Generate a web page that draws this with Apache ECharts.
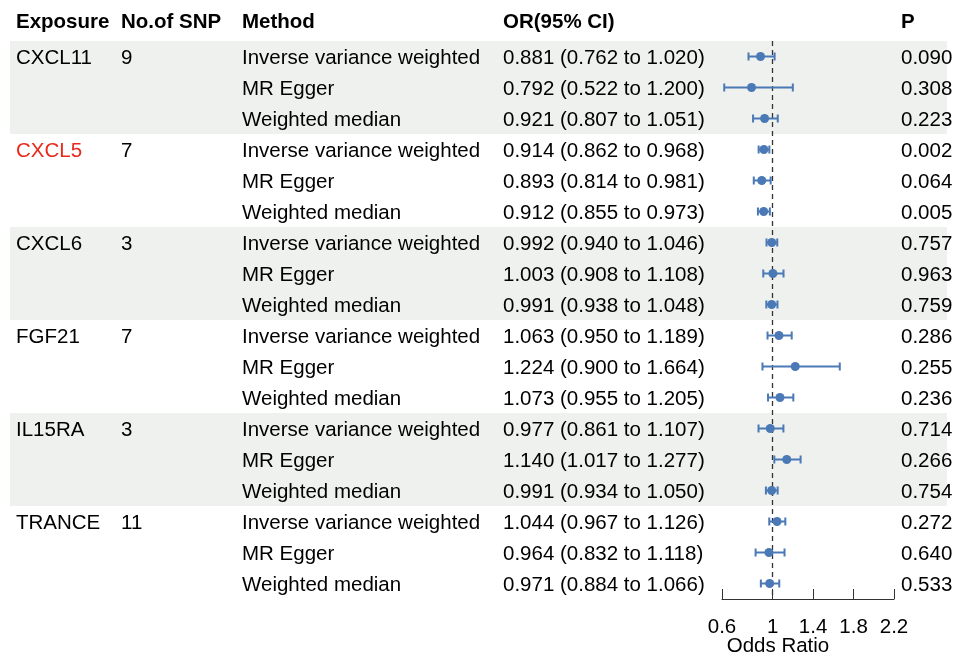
<!DOCTYPE html>
<html><head><meta charset="utf-8">
<script src="https://cdn.jsdelivr.net/npm/echarts@6/dist/echarts.min.js"></script>
<style>html,body{margin:0;padding:0;background:#fff}#c{width:955px;height:658px}</style>
</head><body><div id="c"></div>
<script>
const exposures = ['CXCL11','CXCL5','CXCL6','FGF21','IL15RA','TRANCE'];
const snpCounts = ['9','7','3','7','3','11'];
const methods = ['Inverse variance weighted','MR Egger','Weighted median'];
const orValues = [0.881,0.792,0.921, 0.914,0.893,0.912, 0.992,1.003,0.991, 1.063,1.224,1.073, 0.977,1.140,0.991, 1.044,0.964,0.971];
const orLower  = [0.762,0.522,0.807, 0.862,0.814,0.855, 0.940,0.908,0.938, 0.950,0.900,0.955, 0.861,1.017,0.934, 0.967,0.832,0.884];
const orUpper  = [1.020,1.200,1.051, 0.968,0.981,0.973, 1.046,1.108,1.048, 1.189,1.664,1.205, 1.107,1.277,1.050, 1.126,1.118,1.066];
const pValues  = ['0.090','0.308','0.223','0.002','0.064','0.005','0.757','0.963','0.759','0.286','0.255','0.236','0.714','0.266','0.754','0.272','0.640','0.533'];
const headers = ['Exposure','No.of SNP','Method','OR(95% CI)','P'];
const tickValues = [0.5, 1, 1.4, 1.8, 2.2];
const tickLabels = ['0.6','1','1.4','1.8','2.2'];
const highlightExposure = 'CXCL5';
const shadedGroups = [0, 2, 4];
const axisTitle = 'Odds Ratio';

// ---- layout (not data) ----
const W = 955, H = 658;
const colX = [16, 121, 242, 503, 901];
const rowsTop = 41, rowH = 31;
const shadeX = [10, 947];
const FONT = '"Liberation Sans", Arial, sans-serif';
const FS = 20.5;
const BLUE = '#4a79b6';
const RED = '#e8291c';

const nRows = exposures.length * methods.length;
const rowIds = Array.from({length: nRows}, (_, i) => String(i));
const fmt = v => v.toFixed(3);

function textSeries(col, items) {
  return {
    type: 'scatter', xAxisIndex: 1, yAxisIndex: 1, symbolSize: 0, silent: true, z: 5,
    itemStyle: {opacity: 1},
    data: items.map(it => ({
      value: [colX[col], it.row], name: it.text,
      label: it.color ? {color: it.color} : undefined
    })),
    label: {show: true, position: 'right', distance: 0, offset: [0, 1.5], formatter: p => p.name,
      color: '#000', opacity: 1, fontSize: FS, fontFamily: FONT},
    animation: false
  };
}

const expItems = [], snpItems = [], methItems = [], orItems = [], pItems = [];
for (let i = 0; i < nRows; i++) {
  const g = Math.floor(i / methods.length), m = i % methods.length;
  if (m === 0) {
    expItems.push({row: String(i), text: exposures[g], color: exposures[g] === highlightExposure ? RED : null});
    snpItems.push({row: String(i), text: snpCounts[g]});
  }
  methItems.push({row: String(i), text: methods[m]});
  orItems.push({row: String(i), text: `${fmt(orValues[i])} (${fmt(orLower[i])} to ${fmt(orUpper[i])})`});
  pItems.push({row: String(i), text: pValues[i]});
}

const shadeRows = [];
shadedGroups.forEach(g => { for (let m = 0; m < methods.length; m++) shadeRows.push([String(g * methods.length + m)]); });

const chart = echarts.init(document.getElementById('c'), null, {renderer: 'canvas'});
chart.setOption({
  animation: false,
  backgroundColor: '#fff',
  grid: [
    {left: 722, width: 172, top: rowsTop, height: rowH * nRows},
    {left: 0, width: W, top: rowsTop, height: rowH * nRows}
  ],
  xAxis: [
    {type: 'value', gridIndex: 0, min: 0.5, max: 2.2,
      axisLine: {show: true, lineStyle: {color: '#333', width: 1}},
      axisTick: {show: true, inside: true, length: 10, customValues: tickValues, lineStyle: {color: '#333', width: 1}},
      axisLabel: {show: true, customValues: tickValues, margin: 18, color: '#000', fontSize: FS, fontFamily: FONT,
        formatter: v => { let k = 0; tickValues.forEach((t, j) => { if (Math.abs(t - v) < Math.abs(tickValues[k] - v)) k = j; }); return tickLabels[k]; }},
      splitLine: {show: false}},
    {type: 'value', gridIndex: 1, min: 0, max: W, show: false}
  ],
  yAxis: [
    {type: 'category', gridIndex: 0, data: rowIds, inverse: true, show: false},
    {type: 'category', gridIndex: 1, data: rowIds, inverse: true, show: false}
  ],
  graphic: [
    ...headers.map((h, j) => ({type: 'text', left: colX[j], top: 12, silent: true,
      style: {text: h, font: `bold ${FS}px ${FONT}`, fill: '#000'}})),
    {type: 'text', x: 778, y: 646, silent: true,
      style: {text: axisTitle, font: `${FS}px ${FONT}`, fill: '#000', align: 'center', verticalAlign: 'middle'}}
  ],
  series: [
    {type: 'custom', xAxisIndex: 1, yAxisIndex: 1, z: 0, silent: true, data: shadeRows,
      encode: {y: 0},
      renderItem: (params, api) => {
        const a = api.coord([shadeX[0], api.value(0)]);
        const b = api.coord([shadeX[1], api.value(0)]);
        const h = api.size([0, 1])[1];
        return {type: 'rect', shape: {x: a[0], y: a[1] - h / 2, width: b[0] - a[0], height: h},
          style: {fill: '#eef1ee'}};
      }},
    textSeries(0, expItems),
    textSeries(1, snpItems),
    textSeries(2, methItems),
    textSeries(3, orItems),
    textSeries(4, pItems),
    {type: 'custom', xAxisIndex: 0, yAxisIndex: 0, z: 6, silent: true,
      data: orValues.map((v, i) => [orLower[i], orUpper[i], String(i)]),
      encode: {x: [0, 1], y: 2},
      renderItem: (params, api) => {
        const l = api.coord([api.value(0), api.value(2)]);
        const u = api.coord([api.value(1), api.value(2)]);
        const c = 4;
        const st = {stroke: BLUE, lineWidth: 2};
        return {type: 'group', children: [
          {type: 'line', shape: {x1: l[0], y1: l[1], x2: u[0], y2: u[1]}, style: st},
          {type: 'line', shape: {x1: l[0], y1: l[1] - c, x2: l[0], y2: l[1] + c}, style: st},
          {type: 'line', shape: {x1: u[0], y1: u[1] - c, x2: u[0], y2: u[1] + c}, style: st}
        ]};
      }},
    {type: 'scatter', xAxisIndex: 0, yAxisIndex: 0, z: 7, silent: true, symbol: 'circle', symbolSize: 9,
      itemStyle: {color: BLUE, opacity: 1},
      data: orValues.map((v, i) => [v, String(i)]),
      markLine: {silent: true, symbol: 'none', label: {show: false},
        lineStyle: {color: '#333', type: [5, 4], width: 1.3},
        data: [{xAxis: 1}]}}
  ]
});
</script></body></html>
